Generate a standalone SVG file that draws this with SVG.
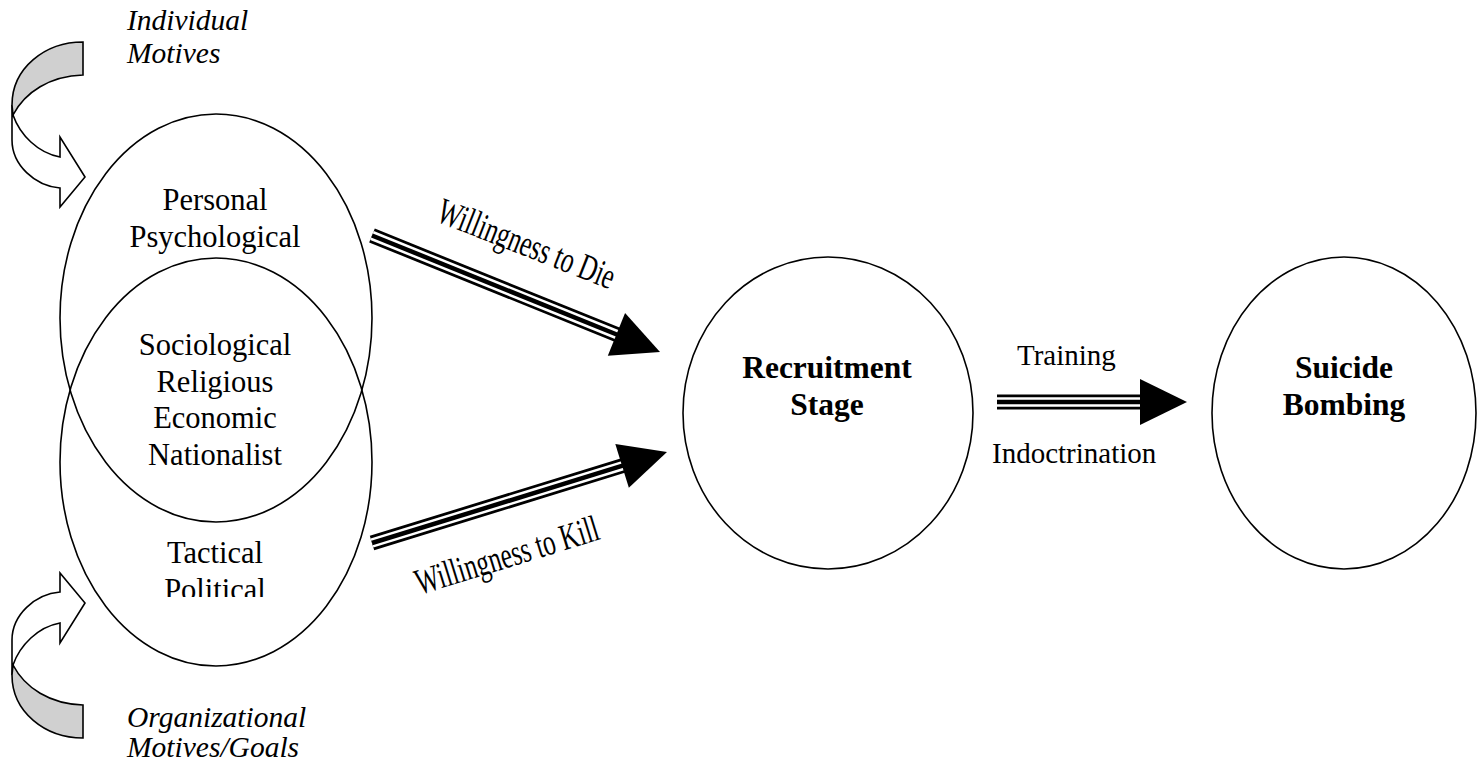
<svg xmlns="http://www.w3.org/2000/svg" width="1481" height="763" viewBox="0 0 1481 763">
  <defs>
    <style>
      .node { fill: none; stroke: #000; stroke-width: 1.6; }
      .txt { font-family: "Liberation Serif", "Times New Roman", serif; font-size: 30.5px; fill: #000; text-anchor: middle; }
      .bold { font-family: "Liberation Serif", "Times New Roman", serif; font-size: 31.5px; font-weight: bold; fill: #000; text-anchor: middle; }
      .ital { font-family: "Liberation Serif", "Times New Roman", serif; font-size: 29.5px; font-style: italic; fill: #000; }
      .lbl { font-family: "Liberation Serif", "Times New Roman", serif; font-size: 29px; fill: #000; }
      .slant { font-family: "Liberation Serif", "Times New Roman", serif; font-size: 37px; fill: #000; text-anchor: middle; }
      .l1 { stroke: #000; stroke-width: 15; fill: none; }
      .l2 { stroke: #fff; stroke-width: 9.5; fill: none; }
      .l3 { stroke: #000; stroke-width: 4.5; fill: none; }
      .head { fill: #000; stroke: none; }
      .bendw { fill: #fff; stroke: #000; stroke-width: 1.6; stroke-linejoin: miter; }
      .bendg { fill: #d0d0d0; stroke: #000; stroke-width: 1.6; stroke-linejoin: miter; }
    </style>
    <clipPath id="cut">
      <rect x="0" y="0" width="1481" height="597"/>
    </clipPath>
    <!-- curved block arrow: grey twisted band sweeping round into a white arrow -->
    <g id="bend">
      <path class="bendw" d="M13,115 C20,135 38,153 60,157 L60,137 L85,177 L60,207 L60,188 C35,186 12,165 12,140 L12,105 Z"/>
      <path class="bendg" d="M83,42 C45,42 12,68 12,105 L13,115 C25,92 50,76 83,75 Z"/>
    </g>
  </defs>

  <rect width="1481" height="763" fill="#fff"/>

  <!-- side influences -->
  <g id="individual-motives">
    <use href="#bend"/>
    <text class="ital" x="127" y="30">Individual</text>
    <text class="ital" x="127" y="63">Motives</text>
  </g>
  <g id="organizational-motives">
    <use href="#bend" transform="matrix(1,0,0,-1,0,780)"/>
    <text class="ital" x="127" y="727">Organizational</text>
    <text class="ital" x="127" y="757">Motives/Goals</text>
  </g>

  <!-- overlapping motive ellipses -->
  <g id="motives-upper">
    <ellipse class="node" cx="216" cy="318" rx="156" ry="204"/>
    <text class="txt" x="215" y="210">Personal</text>
    <text class="txt" x="215" y="247">Psychological</text>
  </g>
  <g id="motives-lower">
    <ellipse class="node" cx="216" cy="462" rx="156" ry="204"/>
    <text class="txt" x="215" y="563">Tactical</text>
    <text class="txt" x="215" y="600" clip-path="url(#cut)">Political</text>
  </g>
  <g id="motives-shared">
    <text class="txt" x="215" y="355">Sociological</text>
    <text class="txt" x="215" y="392">Religious</text>
    <text class="txt" x="215" y="428">Economic</text>
    <text class="txt" x="215" y="465">Nationalist</text>
  </g>

  <g id="recruitment">
    <ellipse class="node" cx="828" cy="413" rx="145" ry="156"/>
    <text class="bold" x="827" y="378">Recruitment</text>
    <text class="bold" x="827" y="415">Stage</text>
  </g>

  <g id="suicide-bombing">
    <ellipse class="node" cx="1344" cy="413" rx="132" ry="156"/>
    <text class="bold" x="1344" y="378">Suicide</text>
    <text class="bold" x="1344" y="415">Bombing</text>
  </g>

  <!-- connectors -->
  <g id="connectors">
    <g transform="translate(372,235.5) rotate(22.03)">
      <line class="l1" x1="0" y1="0" x2="266" y2="0"/>
      <line class="l2" x1="0" y1="0" x2="266" y2="0"/>
      <line class="l3" x1="0" y1="0" x2="266" y2="0"/>
      <polygon class="head" points="263.7,-23 310.7,0 263.7,23"/>
    </g>
    <g transform="translate(372,543) rotate(-17.14)">
      <line class="l1" x1="0" y1="0" x2="264" y2="0"/>
      <line class="l2" x1="0" y1="0" x2="264" y2="0"/>
      <line class="l3" x1="0" y1="0" x2="264" y2="0"/>
      <polygon class="head" points="261.7,-23 308.7,0 261.7,23"/>
    </g>
    <g transform="translate(997,402)">
      <line class="l1" x1="0" y1="0" x2="145" y2="0"/>
      <line class="l2" x1="0" y1="0" x2="145" y2="0"/>
      <line class="l3" x1="0" y1="0" x2="145" y2="0"/>
      <polygon class="head" points="143,-23 190,0 143,23"/>
    </g>
    <text class="slant" transform="translate(522,255) rotate(21.5) scale(0.68,1)">Willingness to Die</text>
    <text class="slant" transform="translate(510.5,567) rotate(-17.1) scale(0.68,1)">Willingness to Kill</text>
    <text class="lbl" x="1017" y="365">Training</text>
    <text class="lbl" x="992" y="463">Indoctrination</text>
  </g>
</svg>
